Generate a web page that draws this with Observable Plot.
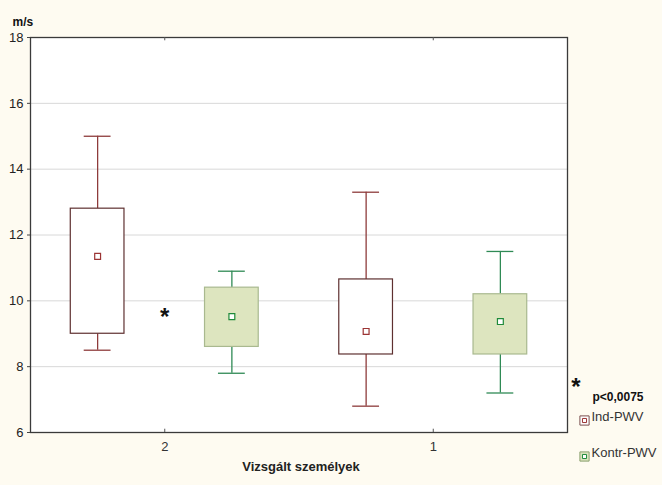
<!DOCTYPE html>
<html>
<head>
<meta charset="utf-8">
<script src="https://cdn.jsdelivr.net/npm/d3@7"></script>
<script src="https://cdn.jsdelivr.net/npm/@observablehq/plot@0.6"></script>
<style>
  html, body { margin: 0; padding: 0; background: #fefbf1; }
  #chart svg { display: block; }
</style>
</head>
<body>
<div id="chart"></div>
<script>
const groups = ["2", "1"];
const series = ["Ind-PWV", "Kontr-PWV"];
const indMax  = [15.0, 13.3];
const indQ3   = [12.8, 10.65];
const indMean = [11.35, 9.07];
const indQ1   = [9.0, 8.37];
const indMin  = [8.5, 6.8];
const kontrMax  = [10.9, 11.5];
const kontrQ3   = [10.4, 10.2];
const kontrMean = [9.52, 9.37];
const kontrQ1   = [8.6, 8.37];
const kontrMin  = [7.8, 7.2];
const yTicks = [6, 8, 10, 12, 14, 16, 18];
const sigGroup = "2";
const sigValue = 9.6;
const sigNote = "p<0,0075";

const colors = {
  "Ind-PWV":   {box: "#5e3030", fill: "white",   whisk: "#8e3b3b", mean: "#9b3434", leg: "#7a5050"},
  "Kontr-PWV": {box: "#a9b98f", fill: "#dde5bf", whisk: "#2f8a55", mean: "#1f8a3a", leg: "#8aa070"}
};

const stats = [
  {max: indMax, q3: indQ3, mean: indMean, q1: indQ1, min: indMin},
  {max: kontrMax, q3: kontrQ3, mean: kontrMean, q1: kontrQ1, min: kontrMin}
];

const rows = [];
groups.forEach((g, gi) => {
  series.forEach((s, si) => {
    const st = stats[si];
    rows.push({group: g, series: s, pos: gi * 2 + si + 0.5,
      max: st.max[gi], q3: st.q3[gi], mean: st.mean[gi], q1: st.q1[gi], min: st.min[gi]});
  });
});
const groupTicks = groups.map((g, i) => i * 2 + 1);

const font = "'Liberation Sans', Arial, sans-serif";
const hw = 0.2, cw = 0.1;

function legendItem(s, dy) {
  const c = colors[s];
  return [
    Plot.dot([s], {frameAnchor: "bottom-right", dx: 17, dy, symbol: "square", r: 5.2,
      fill: c.fill, stroke: c.leg, strokeWidth: 1}),
    Plot.dot([s], {frameAnchor: "bottom-right", dx: 17, dy, symbol: "square", r: 2.3,
      fill: "white", stroke: c.mean, strokeWidth: 1}),
    Plot.text([s], {frameAnchor: "bottom-right", dx: 24, dy, textAnchor: "start",
      fontSize: 13, fill: "#333"})
  ];
}

const chart = Plot.plot({
  width: 662,
  height: 485,
  marginLeft: 30,
  marginRight: 95,
  marginTop: 37,
  marginBottom: 53,
  style: {background: "#fefbf1", fontFamily: font, fontSize: "13px", color: "#222"},
  x: {domain: [0, 4], label: null},
  y: {domain: [6, 18], label: null},
  marks: [
    Plot.frame({fill: "white"}),
    Plot.gridY(yTicks.slice(1, -1), {stroke: "#d8d8d8", strokeOpacity: 1}),
    // whiskers
    Plot.ruleX(rows, {x: "pos", y1: "q3", y2: "max", stroke: d => colors[d.series].whisk, strokeWidth: 1.3}),
    Plot.ruleX(rows, {x: "pos", y1: "min", y2: "q1", stroke: d => colors[d.series].whisk, strokeWidth: 1.3}),
    Plot.ruleY(rows, {y: "max", x1: d => d.pos - cw, x2: d => d.pos + cw, stroke: d => colors[d.series].whisk, strokeWidth: 1.3}),
    Plot.ruleY(rows, {y: "min", x1: d => d.pos - cw, x2: d => d.pos + cw, stroke: d => colors[d.series].whisk, strokeWidth: 1.3}),
    // boxes
    Plot.rect(rows, {x1: d => d.pos - hw, x2: d => d.pos + hw, y1: "q1", y2: "q3",
      fill: d => colors[d.series].fill, stroke: d => colors[d.series].box, strokeWidth: 1.2}),
    // means
    Plot.dot(rows, {x: "pos", y: "mean", symbol: "square", r: 3.3, fill: "white",
      stroke: d => colors[d.series].mean, strokeWidth: 1.2}),
    // significance star
    Plot.text([sigGroup], {x: d => groups.indexOf(d) * 2 + 1, y: () => sigValue, text: () => "*",
      fontSize: 24, fontWeight: "bold", fill: "#111", dy: 3}),
    // frame
    Plot.frame({stroke: "#3a3a3a", strokeWidth: 1.3}),
    Plot.axisY(yTicks, {anchor: "left", tickSize: 3, tickPadding: 4, fontSize: 13, fill: "#222", stroke: "#444", label: null}),
    Plot.axisX(groupTicks, {anchor: "bottom", tickSize: 0, tickPadding: 9,
      tickFormat: d => groups[(d - 1) / 2], fontSize: 13, fill: "#333", label: null}),
    Plot.ruleX(groupTicks, {x: d => d, y1: () => 6, y2: () => 6.1, stroke: "#555"}),
    Plot.ruleX(groupTicks, {x: d => d, y1: () => 17.9, y2: () => 18, stroke: "#555"}),
    // labels
    Plot.text(["m/s"], {frameAnchor: "top-left", dx: -18, dy: -20, textAnchor: "start",
      fontWeight: "bold", fontSize: 12, fill: "#111"}),
    Plot.text(["Vizsgált személyek"], {frameAnchor: "bottom", dy: 38, dx: 2,
      fontWeight: "bold", fontSize: 13, fill: "#222"}),
    // legend
    Plot.text(["*"], {frameAnchor: "bottom-right", dx: 13, dy: -38, fontSize: 24, fontWeight: "bold", fill: "#111"}),
    Plot.text([sigNote], {frameAnchor: "bottom-right", dx: 25, dy: -32, textAnchor: "start",
      fontWeight: "bold", fontSize: 12, fill: "#111"}),
    ...legendItem(series[0], -12),
    ...legendItem(series[1], 24)
  ]
});

document.getElementById("chart").appendChild(chart);
</script>
</body>
</html>
